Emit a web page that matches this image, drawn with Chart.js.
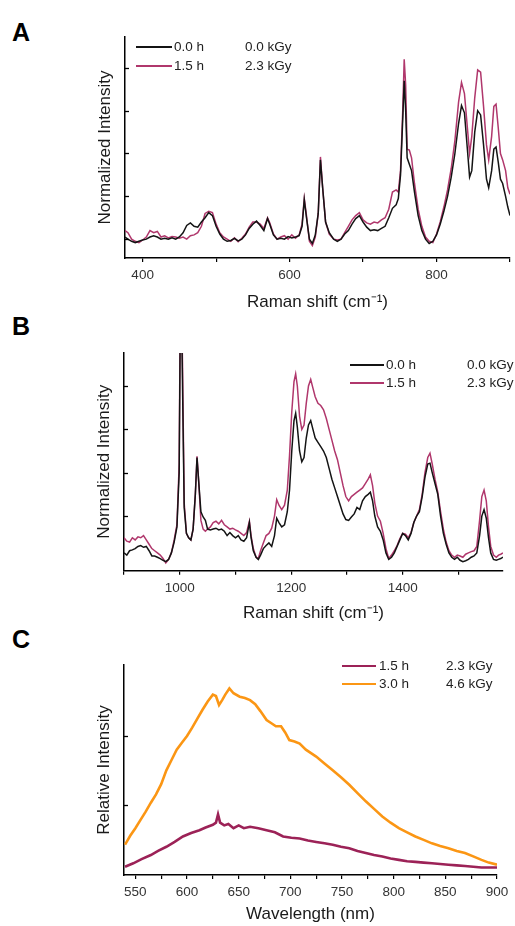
<!DOCTYPE html>
<html>
<head>
<meta charset="utf-8">
<script src="https://cdn.jsdelivr.net/npm/chart.js@4.4.1/dist/chart.umd.min.js"></script>
<style>
  html, body { margin: 0; padding: 0; background: #fff; }
  body { width: 515px; height: 926px; position: relative; overflow: hidden; font-family: "Liberation Sans", Arial, sans-serif; }
  canvas { position: absolute; left: 0; }
  .lab { position: absolute; font-weight: bold; font-size: 25px; color: #000; line-height: 1; }
  .lg { position: absolute; font-size: 13.5px; color: #222; line-height: 16px; white-space: nowrap; }
  .ln { position: absolute; height: 2px; }
</style>
</head>
<body>
<div class="lab" style="left:12px;top:20px;">A</div>
<div class="lab" style="left:12px;top:314px;">B</div>
<div class="lab" style="left:12px;top:627px;">C</div>

<canvas id="cA" width="515" height="320" style="top:0px"></canvas>
<canvas id="cB" width="515" height="320" style="top:310px"></canvas>
<canvas id="cC" width="515" height="306" style="top:620px"></canvas>

<div id="legends"></div>

<script>
// ---------------- Panel A : Raman, 376-900 cm-1 ----------------
const aShift = [376,380,385,390,395,400,405,410,415,420,425,430,435,440,445,450,455,460,465,470,475,480,485,490,495,500,505,510,515,520,525,530,535,540,545,550,555,560,565,570,573,578,583,588,593,598,603,608,613,617,620,623,627,631,635,639,642,645,649,654,660,665,670,675,680,685,690,695,700,705,710,715,720,725,730,735,740,745,748,751,754,756,758,760,763,766,770,775,780,785,790,795,800,805,810,815,820,825,830,834,838,842,845,848,852,856,860,864,868,871,875,878,881,884,887,890,894,897,900];
const aBlack = [0.05,0.0,-0.05,-0.08,-0.05,-0.02,0.0,0.05,0.08,0.05,0.0,0.02,0.0,0.03,0.0,0.05,0.15,0.32,0.38,0.3,0.28,0.4,0.5,0.62,0.55,0.3,0.12,0.0,-0.05,-0.03,0.02,-0.04,0.0,0.1,0.25,0.35,0.42,0.32,0.2,0.48,0.35,0.1,0.0,0.02,0.0,0.06,0.03,0.05,0.08,0.3,0.92,0.5,0.0,-0.1,0.1,0.6,1.85,1.2,0.4,0.15,0.0,-0.05,0.0,0.12,0.2,0.35,0.48,0.55,0.4,0.28,0.2,0.22,0.2,0.25,0.3,0.5,0.72,0.8,0.95,1.5,2.8,3.7,3.0,1.9,1.75,1.6,1.1,0.55,0.2,0.0,-0.1,-0.05,0.1,0.35,0.65,1.0,1.45,2.0,2.7,3.12,2.95,2.1,1.45,1.6,2.5,3.0,2.9,2.2,1.4,1.2,1.6,2.1,2.15,1.8,1.4,1.3,1.0,0.75,0.55];
const aPurple = [0.2,0.15,0.0,-0.05,-0.08,-0.02,0.05,0.2,0.15,0.18,0.05,0.08,0.03,0.06,0.05,0.02,0.05,0.0,0.08,0.1,0.15,0.3,0.6,0.65,0.62,0.35,0.15,0.05,0.0,-0.05,0.03,-0.06,0.02,0.12,0.28,0.4,0.4,0.35,0.25,0.5,0.38,0.12,0.0,0.05,0.08,0.0,0.1,0.02,0.1,0.35,0.95,0.55,-0.05,-0.15,0.05,0.6,1.92,1.2,0.4,0.12,0.0,-0.02,0.0,0.15,0.3,0.45,0.55,0.62,0.45,0.38,0.35,0.4,0.38,0.45,0.5,0.7,1.1,1.15,1.1,1.6,3.0,4.2,3.6,2.1,2.08,1.9,1.3,0.7,0.3,0.05,-0.05,-0.08,0.12,0.4,0.75,1.15,1.65,2.3,3.2,3.66,3.4,2.6,2.0,2.4,3.3,3.95,3.9,3.1,2.2,1.85,2.4,3.1,3.15,2.6,2.0,1.85,1.6,1.2,1.05];
const aTickLabels = [400, 600, 800];

// ---------------- Panel B : Raman, 900-1580 cm-1 ----------------
const bShift = [900,905,910,915,920,925,930,935,940,945,950,955,960,965,970,975,980,985,990,995,999,1001,1003,1005,1008,1012,1016,1020,1024,1028,1031,1034,1038,1042,1046,1050,1055,1060,1065,1070,1075,1080,1085,1090,1095,1100,1105,1110,1115,1120,1125,1128,1132,1137,1141,1145,1150,1155,1160,1165,1170,1174,1178,1183,1188,1193,1197,1201,1205,1208,1211,1215,1219,1223,1227,1231,1235,1239,1243,1248,1253,1258,1263,1268,1273,1278,1283,1288,1293,1298,1303,1308,1313,1318,1323,1328,1333,1338,1342,1346,1350,1355,1360,1365,1370,1375,1380,1385,1390,1395,1400,1405,1410,1415,1420,1425,1430,1435,1440,1445,1449,1453,1458,1463,1468,1473,1478,1483,1488,1493,1498,1503,1508,1513,1518,1523,1528,1533,1538,1542,1546,1550,1554,1558,1563,1568,1572,1576,1580];
const bBlack = [0.15,0.1,0.2,0.22,0.25,0.3,0.32,0.28,0.3,0.2,0.08,0.08,0.05,0.02,-0.02,-0.05,0.0,0.15,0.4,0.75,2.0,5.5,6.0,4.0,1.2,0.6,0.5,0.45,0.7,1.5,2.35,1.8,1.1,0.98,0.9,0.7,0.68,0.7,0.72,0.68,0.7,0.65,0.55,0.62,0.55,0.5,0.55,0.45,0.42,0.5,0.85,0.5,0.2,0.05,0.0,0.1,0.25,0.32,0.38,0.3,0.55,0.95,0.85,0.75,0.8,1.1,1.6,2.5,3.2,3.37,3.05,2.5,2.25,2.35,2.8,3.1,3.2,3.0,2.8,2.7,2.6,2.5,2.35,2.1,1.85,1.65,1.45,1.25,1.05,0.92,0.9,0.98,1.05,1.2,1.15,1.35,1.45,1.5,1.55,1.35,1.0,0.75,0.65,0.45,0.15,0.0,0.05,0.15,0.3,0.45,0.6,0.55,0.45,0.6,0.85,1.0,1.1,1.45,1.9,2.2,2.22,2.0,1.75,1.5,1.0,0.6,0.35,0.15,0.05,0.0,0.05,-0.02,-0.05,-0.03,0.0,0.05,0.08,0.15,0.55,1.0,1.15,0.95,0.5,0.15,0.0,-0.02,0.0,0.02,0.05];
const bPurple = [0.5,0.42,0.4,0.5,0.45,0.52,0.5,0.55,0.45,0.35,0.25,0.2,0.15,0.1,0.02,-0.08,0.0,0.15,0.45,0.8,2.2,6.0,6.0,4.5,1.3,0.6,0.5,0.45,0.7,1.5,2.38,1.8,0.9,0.7,0.65,0.7,0.75,0.85,0.88,0.82,0.9,0.8,0.75,0.7,0.72,0.68,0.65,0.6,0.55,0.62,0.88,0.55,0.25,0.05,0.02,0.2,0.38,0.55,0.6,0.72,1.0,1.38,1.25,1.15,1.25,1.6,2.4,3.4,4.1,4.28,4.0,3.3,3.0,3.1,3.6,4.0,4.15,3.95,3.75,3.6,3.55,3.45,3.25,3.0,2.75,2.5,2.3,2.0,1.7,1.45,1.35,1.45,1.5,1.55,1.6,1.65,1.75,1.85,1.95,1.7,1.3,1.0,0.88,0.6,0.25,0.02,0.1,0.2,0.32,0.48,0.6,0.58,0.5,0.62,0.85,1.0,1.15,1.5,2.0,2.35,2.45,2.2,1.85,1.55,1.1,0.7,0.4,0.2,0.1,0.05,0.1,0.08,0.05,0.12,0.15,0.18,0.2,0.3,0.9,1.45,1.6,1.35,0.75,0.3,0.1,0.05,0.1,0.12,0.15];
const bTickLabels = [1000, 1200, 1400];

// ---------------- Panel C : photoluminescence, 540-900 nm ----------------
const cWaveOrange = [540,545,550,555,560,565,570,575,580,585,590,595,600,605,610,615,620,625,628,631,634,637,641,645,651,656,661,666,671,677,682,686,691,695,699,704,709,715,720,725,733,741,749,757,765,773,781,789,797,805,813,821,829,837,845,853,861,869,877,885,892,900];
const cOrange = [0.42,0.55,0.66,0.78,0.9,1.03,1.15,1.3,1.5,1.65,1.8,1.9,2.0,2.12,2.25,2.38,2.5,2.6,2.58,2.45,2.52,2.6,2.69,2.62,2.57,2.55,2.52,2.46,2.36,2.23,2.18,2.14,2.14,2.05,1.94,1.92,1.89,1.8,1.75,1.7,1.6,1.5,1.4,1.29,1.17,1.05,0.94,0.83,0.74,0.66,0.6,0.54,0.49,0.44,0.4,0.37,0.33,0.3,0.25,0.2,0.16,0.13];
const cWavePurple = [540,548,556,565,572,580,588,596,604,612,618,625,628,630,632,636,640,645,650,655,661,669,677,685,693,701,709,717,725,733,741,749,757,765,773,781,789,797,805,813,821,829,837,845,853,861,869,877,885,893,900];
const cPurple = [0.1,0.15,0.21,0.27,0.33,0.39,0.46,0.54,0.59,0.63,0.67,0.71,0.74,0.86,0.74,0.7,0.72,0.66,0.7,0.66,0.68,0.66,0.63,0.6,0.54,0.52,0.51,0.48,0.46,0.44,0.42,0.39,0.37,0.33,0.3,0.27,0.25,0.22,0.2,0.18,0.17,0.16,0.15,0.14,0.13,0.12,0.11,0.1,0.09,0.09,0.09];
const cTickLabels = [550, 600, 650, 700, 750, 800, 850, 900];

// legend texts
const legendAB = [['0.0 h', '0.0 kGy'], ['1.5 h', '2.3 kGy']];
const legendC = [['1.5 h', '2.3 kGy'], ['3.0 h', '4.6 kGy']];

const COL_BLACK = '#141414';
const COL_PURPLE = '#b0376c';
const COL_PURPLE_C = '#9c2257';
const COL_ORANGE = '#fb9614';

const FONT = '"Liberation Sans", Arial, sans-serif';

const pts = (xs, ys) => xs.map((x, i) => ({ x: x, y: ys[i] }));

const inwardTicks = {
  id: 'inwardTicks',
  afterDraw(chart) {
    const { ctx, chartArea, scales } = chart;
    const y = scales.y;
    ctx.save();
    ctx.strokeStyle = '#000';
    ctx.lineWidth = 1.3;
    y.ticks.forEach(t => {
      const py = Math.round(y.getPixelForValue(t.value)) + 0.5;
      ctx.beginPath();
      ctx.moveTo(chartArea.left, py);
      ctx.lineTo(chartArea.left + 4, py);
      ctx.stroke();
    });
    ctx.restore();
  }
};

function makeChart(id, cfg) {
  return new Chart(document.getElementById(id), {
    type: 'line',
    data: { datasets: cfg.datasets },
    plugins: [inwardTicks],
    options: {
      responsive: false,
      animation: false,
      events: [],
      layout: { padding: { top: cfg.padTop, right: cfg.padRight, left: 0, bottom: 0 } },
      plugins: { legend: { display: false }, tooltip: { enabled: false } },
      elements: { point: { radius: 0 }, line: { tension: 0 } },
      scales: {
        x: {
          type: 'linear',
          min: cfg.xmin, max: cfg.xmax,
          border: { display: true, color: '#000', width: 1.5 },
          grid: { display: true, drawOnChartArea: false, drawTicks: true, tickLength: 4, color: '#000', lineWidth: 1.2 },
          ticks: {
            stepSize: cfg.xstep, includeBounds: false, autoSkip: false, maxRotation: 0, minRotation: 0,
            padding: 5, color: '#333', font: { family: FONT, size: 13.5 },
            callback: v => (cfg.xlabels.includes(v) ? String(v) : '')
          },
          afterBuildTicks: s => { s.ticks = s.ticks.filter(t => Math.abs(t.value / cfg.xstep - Math.round(t.value / cfg.xstep)) < 1e-6); },
          afterFit: s => { s.height = cfg.xHeight; },
          title: { display: true, text: cfg.xtitle, color: '#1a1a1a', font: { family: FONT, size: 17 }, padding: { top: 0, bottom: cfg.xTitlePad } }
        },
        y: {
          type: 'linear',
          min: cfg.ymin, max: cfg.ymax,
          border: { display: true, color: '#000', width: 1.5 },
          grid: { display: false },
          ticks: { display: false, stepSize: 1 },
          afterBuildTicks: s => { s.ticks = s.ticks.filter(t => Number.isInteger(t.value)); },
          afterFit: s => { s.width = cfg.yWidth; },
          title: { display: true, text: cfg.ytitle, color: '#1a1a1a', font: { family: FONT, size: 17 }, padding: { top: cfg.yTitlePad, bottom: 0 } }
        }
      }
    }
  });
}

makeChart('cA', {
  datasets: [
    { label: '0.0 h', data: pts(aShift, aBlack), borderColor: COL_BLACK, borderWidth: 1.5 },
    { label: '1.5 h', data: pts(aShift, aPurple), borderColor: COL_PURPLE, borderWidth: 1.5 }
  ],
  padTop: 37, padRight: 2, xmin: 376, xmax: 900, xstep: 100, xlabels: aTickLabels,
  ymin: -0.44, ymax: 4.72, xHeight: 62, yWidth: 125, xTitlePad: 7, yTitlePad: 95,
  xtitle: 'Raman shift (cm\u207B\u00B9)', ytitle: 'Normalized Intensity'
});

makeChart('cB', {
  datasets: [
    { label: '0.0 h', data: pts(bShift, bBlack), borderColor: COL_BLACK, borderWidth: 1.5 },
    { label: '1.5 h', data: pts(bShift, bPurple), borderColor: COL_PURPLE, borderWidth: 1.5 }
  ],
  padTop: 43, padRight: 12, xmin: 900, xmax: 1580, xstep: 100, xlabels: bTickLabels,
  ymin: -0.26, ymax: 4.76, xHeight: 59.3, yWidth: 124, xTitlePad: 6.5, yTitlePad: 94,
  xtitle: 'Raman shift (cm\u207B\u00B9)', ytitle: 'Normalized Intensity'
});

makeChart('cC', {
  datasets: [
    { label: '1.5 h', data: pts(cWavePurple, cPurple), borderColor: COL_PURPLE_C, borderWidth: 2.6 },
    { label: '3.0 h', data: pts(cWaveOrange, cOrange), borderColor: COL_ORANGE, borderWidth: 2.6 }
  ],
  padTop: 45, padRight: 18, xmin: 539, xmax: 900, xstep: 25, xlabels: cTickLabels,
  ymin: -0.02, ymax: 3.03, xHeight: 51, yWidth: 124, xTitlePad: 1, yTitlePad: 94,
  xtitle: 'Wavelength (nm)', ytitle: 'Relative Intensity'
});

// HTML legends
function legend(rows, colors, lineX1, lineX2, textX, doseX, rowY) {
  const host = document.getElementById('legends');
  rows.forEach((r, i) => {
    const y = rowY[i];
    const ln = document.createElement('div');
    ln.className = 'ln';
    ln.style.left = lineX1 + 'px';
    ln.style.width = (lineX2 - lineX1) + 'px';
    ln.style.top = (y - 1) + 'px';
    ln.style.background = colors[i];
    host.appendChild(ln);
    const t1 = document.createElement('div');
    t1.className = 'lg'; t1.textContent = r[0];
    t1.style.left = textX + 'px'; t1.style.top = (y - 8) + 'px';
    host.appendChild(t1);
    const t2 = document.createElement('div');
    t2.className = 'lg'; t2.textContent = r[1];
    t2.style.left = doseX + 'px'; t2.style.top = (y - 8) + 'px';
    host.appendChild(t2);
  });
}
legend(legendAB, [COL_BLACK, COL_PURPLE], 136, 172, 174, 245, [46.7, 66]);
legend(legendAB, [COL_BLACK, COL_PURPLE], 350, 384, 386, 467, [365, 383.3]);
legend(legendC, [COL_PURPLE_C, COL_ORANGE], 342, 376, 379, 446, [666, 684]);
</script>
</body>
</html>
